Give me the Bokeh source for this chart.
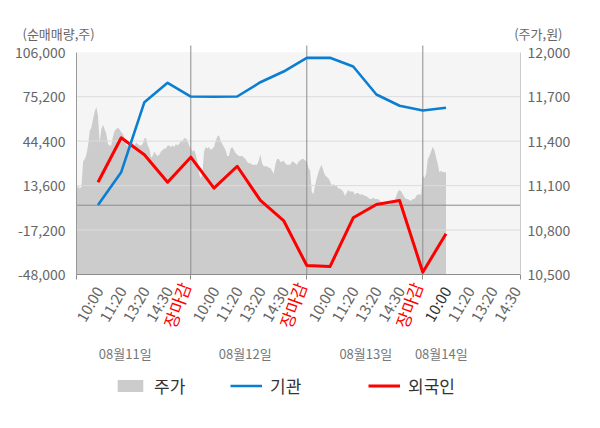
import math
import numpy as np
from bokeh.plotting import figure
from bokeh.models import (Range1d, LinearAxis, FixedTicker, NumeralTickFormatter, Label,
                          Legend, LegendItem)
from bokeh.embed import file_html
from bokeh.resources import INLINE

# ---------------- data ----------------
time_labels = ["10:00", "11:20", "13:20", "14:30", "장마감",
               "10:00", "11:20", "13:20", "14:30", "장마감",
               "10:00", "11:20", "13:20", "14:30", "장마감",
               "10:00", "11:20", "13:20", "14:30"]
date_labels = ["08월11일", "08월12일", "08월13일", "08월14일"]
series_names = ["주가", "기관", "외국인"]

# 기관 net volume (left axis), one value per labelled time
inst = [200, 22900, 71400, 84800, 75300, 75100, 75300, 85200, 92600, 102100,
        102100, 96100, 76700, 68900, 65600, 67500]
# 외국인 net volume (left axis)
foreign = [15900, 46700, 34900, 15900, 33300, 11800, 27000, 3300, -10600, -41800,
           -42500, -8700, 500, 3300, -46400, -19800]

# 주가 (right axis), sampled evenly through each trading day
price_d1 = [11070, 11070, 11100, 11080, 11090, 11260, 11280, 11310, 11370, 11470,
            11490, 11550, 11600, 11630, 11570, 11390, 11480, 11510, 11480, 11450,
            11380, 11370, 11370, 11430, 11470, 11480, 11490, 11480, 11460, 11450,
            11420, 11370, 11370, 11390, 11380, 11390, 11370, 11390, 11380, 11370,
            11370, 11380, 11420, 11420, 11370, 11350, 11290, 11300, 11330, 11310,
            11300, 11310, 11330, 11340, 11350, 11350, 11370, 11370, 11360, 11370,
            11360, 11380, 11370, 11380, 11400, 11400, 11420, 11420, 11400, 11370]
price_d2 = [11350, 11330, 11340, 11310, 11260, 11180, 11150, 11180, 11330, 11360,
            11350, 11360, 11340, 11350, 11360, 11400, 11430, 11440, 11400, 11380,
            11360, 11340, 11300, 11300, 11350, 11360, 11340, 11320, 11310, 11300,
            11300, 11300, 11290, 11280, 11260, 11250, 11250, 11240, 11240, 11240,
            11240, 11270, 11310, 11250, 11230, 11230, 11230, 11220, 11220, 11200,
            11180, 11240, 11280, 11280, 11260, 11260, 11270, 11250, 11240, 11240,
            11240, 11260, 11260, 11250, 11240, 11260, 11270, 11280, 11280, 11270]
price_d3 = [11260, 11220, 11200, 11060, 11040, 11100, 11150, 11190, 11220, 11240,
            11200, 11170, 11160, 11150, 11130, 11100, 11110, 11100, 11100, 11080,
            11080, 11070, 11060, 11030, 11050, 11070, 11060, 11060, 11060, 11040,
            11050, 11050, 11040, 11040, 11040, 11030, 11030, 11020, 11010, 11010,
            11020, 11010, 11010, 11010, 11000, 10990, 10980, 10980, 10970, 10970,
            10970, 10980, 10990, 11000, 11030, 11060, 11070, 11060, 11040, 11020,
            11010, 11010, 11000, 11000, 11010, 11010, 11030, 11040, 11040, 11040]
price_d4 = [11170, 11150, 11180, 11280, 11300, 11330, 11360, 11340, 11290, 11250,
            11190, 11200, 11190, 11190, 11190]
price_days = [price_d1, price_d2, price_d3, price_d4]

left_ticks = [-48000, -17200, 13600, 44400, 75200, 106000]
right_ticks = [10500, 10800, 11100, 11400, 11700, 12000]

SLOTS_PER_DAY = 5
SAMPLES_PER_DAY = 70

# ---------------- layout (page pixels) ----------------
W, H = 584, 412
PAGE_L, PAGE_T = 0, 0                    # canvas origin as observed on the page
SLOT0_PX, SLOT_PX = 74.3, 23.2           # x position of slot 0 and slot width
BAND_L, BAND_R = 76.0, 520.0             # plotting band edges
BAND_T, BAND_B = 51.7, 274.0
DAYLINE_TOP = 45.0

def xdat(px_):
    return (px_ - SLOT0_PX) / SLOT_PX

def ydat(py_, ticks):
    lo, hi = ticks[0], ticks[-1]
    return hi - (py_ - BAND_T) * (hi - lo) / (BAND_B - BAND_T)

def sx(px_):
    return px_ - PAGE_L

def sy(py_):
    return PAGE_T + H - py_

x_lo, x_hi = xdat(BAND_L), xdat(BAND_R)

# ---------------- styling ----------------
FONT = "Noto Sans CJK KR"
BLUE = "#0a7fd1"
RED = "#ff0000"
AREA = "#cccccc"
BG = "#f5f5f5"
TXT = "#666666"
LINE_GRAY = "#8c8c8c"

slot_x = list(range(1, len(time_labels) + 1))
px, py = [], []
for d, vals in enumerate(price_days):
    for i, v in enumerate(vals):
        px.append(max(x_lo, d * SLOTS_PER_DAY + i * SLOTS_PER_DAY / SAMPLES_PER_DAY))
        py.append(v)
day_bounds = [SLOTS_PER_DAY * k for k in range(1, len(date_labels))]

p = figure(width=W, height=H, output_backend="svg", toolbar_location=None,
           x_range=Range1d(xdat(PAGE_L), xdat(PAGE_L + W)),
           y_range=Range1d(ydat(PAGE_T + H, left_ticks), ydat(PAGE_T, left_ticks)),
           min_border=0, background_fill_color="white", border_fill_color="white",
           outline_line_color=None)
p.extra_y_ranges = {"price": Range1d(ydat(PAGE_T + H, right_ticks), ydat(PAGE_T, right_ticks))}
p.xgrid.visible = False
p.ygrid.visible = False

# background band
p.quad(left=[x_lo], right=[x_hi], bottom=[left_ticks[0]], top=[left_ticks[-1]],
       fill_color=BG, line_color=None)
# price area
area_r = p.varea(x=px, y1=right_ticks[0], y2=py, y_range_name="price", fill_color=AREA)
# grid lines
inner = left_ticks[1:-1]
p.segment(x0=[x_lo] * len(inner), x1=[x_hi] * len(inner), y0=inner, y1=inner,
          line_color="#dcdcdc", line_width=1)
# zero line
p.segment(x0=[x_lo], x1=[x_hi], y0=[0], y1=[0], line_color=LINE_GRAY, line_width=1)
# day separators
top_v = ydat(DAYLINE_TOP, left_ticks)
p.segment(x0=day_bounds, x1=day_bounds, y0=[left_ticks[0]] * len(day_bounds),
          y1=[top_v] * len(day_bounds), line_color=LINE_GRAY, line_width=1)

# lines
red_r = p.line(slot_x[:len(foreign)], foreign, line_color=RED, line_width=3, line_join="round")
blue_r = p.line(slot_x[:len(inst)], inst, line_color=BLUE, line_width=2.6, line_join="round")

# x axis (drawn at the band's bottom)
xa = p.xaxis[0]
xa.fixed_location = left_ticks[0]
xa.bounds = (x_lo, x_hi)
xa.ticker = FixedTicker(ticks=[x_lo] + day_bounds + [x_hi])
xa.major_label_text_font_size = "0px"
xa.major_label_text_color = None
xa.major_tick_out = 5
xa.major_tick_in = 0
xa.minor_tick_line_color = None
xa.axis_line_color = LINE_GRAY
xa.major_tick_line_color = LINE_GRAY

# left axis
ya = p.yaxis[0]
ya.fixed_location = x_lo
ya.ticker = FixedTicker(ticks=left_ticks)
ya.formatter = NumeralTickFormatter(format="0,0")
ya.bounds = (left_ticks[0], left_ticks[-1])
ya.major_tick_out = 0
ya.major_tick_in = 0
ya.minor_tick_line_color = None
ya.major_tick_line_color = None
ya.axis_line_color = "#999999"
ya.major_label_text_font = FONT
ya.major_label_text_font_size = "14px"
ya.major_label_text_color = TXT
ya.major_label_standoff = 11

ra = LinearAxis(y_range_name="price", ticker=FixedTicker(ticks=right_ticks),
                formatter=NumeralTickFormatter(format="0,0"),
                bounds=(right_ticks[0], right_ticks[-1]), fixed_location=x_hi)
ra.major_tick_out = 0
ra.major_tick_in = 0
ra.minor_tick_line_color = None
ra.major_tick_line_color = None
ra.axis_line_color = "#cccccc"
ra.major_label_text_font = FONT
ra.major_label_text_font_size = "14px"
ra.major_label_text_color = TXT
ra.major_label_standoff = 7
p.add_layout(ra, "right")

# rotated time labels
cur_idx = 3 * SLOTS_PER_DAY  # current day's 10:00
for i, lab in enumerate(time_labels):
    if lab == "장마감":
        col, ang, fs, xo, ypx = RED, math.radians(70), "17px", -6.2, 282.4
    else:
        col = "#333333" if i == cur_idx else TXT
        ang, fs, xo, ypx = math.radians(60), "15px", 0.5, 287.0
    p.add_layout(Label(x=slot_x[i], y=sy(ypx), x_units="data", y_units="screen",
                       x_offset=xo, text=lab, angle=ang, text_align="right",
                       text_baseline="middle", text_font=FONT,
                       text_font_size=fs, text_color=col))

# date labels
date_px = [124.7, 244.7, 365.3, 440.8]
for dpx, lab in zip(date_px, date_labels):
    p.add_layout(Label(x=xdat(dpx), y=sy(353), x_units="data", y_units="screen", text=lab,
                       text_align="center", text_baseline="middle", text_font=FONT,
                       text_font_size="13px", text_color="#777777"))

# axis titles
p.add_layout(Label(x=sx(22), y=sy(33), x_units="screen", y_units="screen", text="(순매매량,주)",
                   text_align="left", text_baseline="middle", text_font=FONT,
                   text_font_size="13px", text_color=TXT))
p.add_layout(Label(x=sx(562), y=sy(33), x_units="screen", y_units="screen", text="(주가,원)",
                   text_align="right", text_baseline="middle", text_font=FONT,
                   text_font_size="13px", text_color=TXT))

# legends (one per item to reproduce the uneven spacing)
legend_px = [114, 230, 368]
for name, rend, lpx in zip(series_names, [area_r, blue_r, red_r], legend_px):
    lg = Legend(items=[LegendItem(label=name, renderers=[rend])],
                location=(sx(lpx), sy(398)), orientation="horizontal",
                glyph_width=32, glyph_height=15, label_height=15, label_standoff=8,
                label_text_font=FONT, label_text_font_size="17px",
                label_text_color="#333333", padding=0, margin=0, spacing=0,
                border_line_color=None, background_fill_alpha=0)
    p.add_layout(lg)

open("out.html", "w").write(file_html(p, INLINE))
